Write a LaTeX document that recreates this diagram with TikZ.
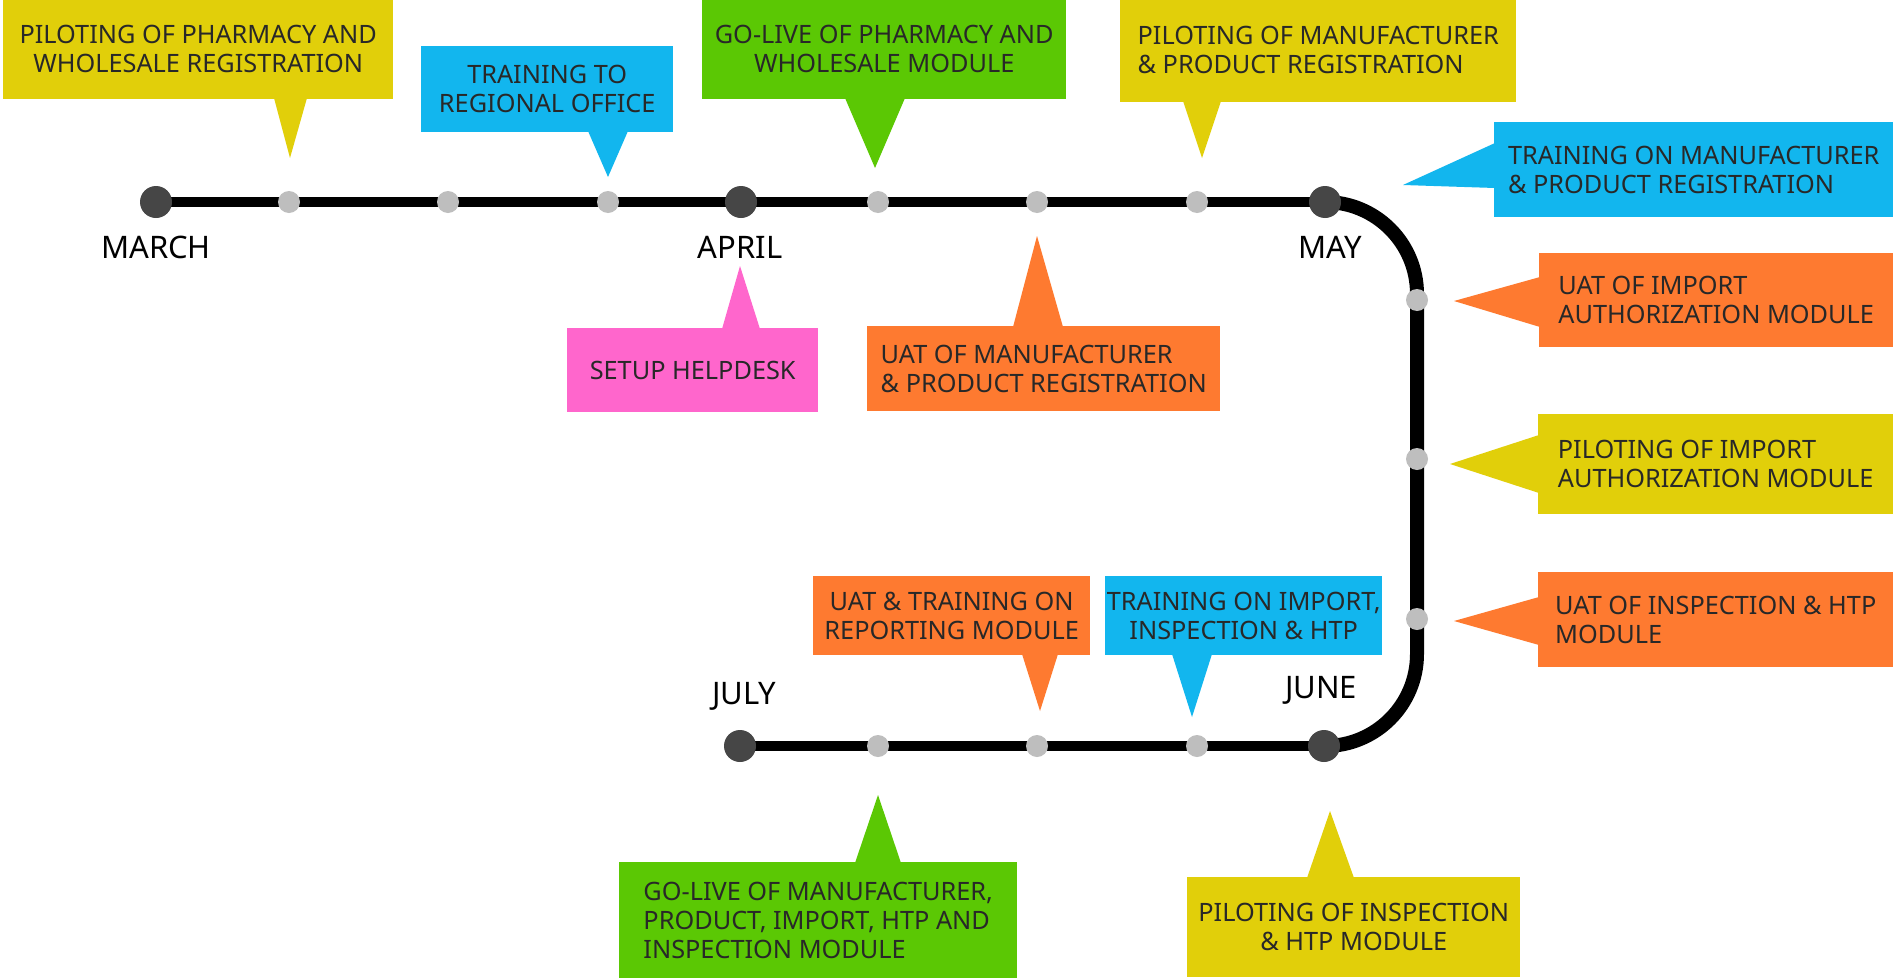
\documentclass[tikz,border=0pt]{standalone}
\usepackage{fontspec}
\setmainfont{Noto Sans}
\usetikzlibrary{backgrounds}

\definecolor{cYellow}{RGB}{225,207,10}
\definecolor{cBlue}{RGB}{18,182,238}
\definecolor{cGreen}{RGB}{91,200,4}
\definecolor{cOrange}{RGB}{254,122,48}
\definecolor{cPink}{RGB}{255,102,204}
\definecolor{cMonth}{RGB}{70,70,70}
\definecolor{cTick}{RGB}{190,190,190}
\definecolor{cText}{RGB}{40,40,40}

\tikzset{
  callout/.style={rectangle, inner sep=0pt, anchor=north west, text=cText,
    font=\fontsize{25.3}{29}\selectfont},
  mdot/.style={circle, fill=cMonth, inner sep=0pt, minimum size=32pt},
  tdot/.style={circle, fill=cTick, inner sep=0pt, minimum size=22pt},
  month/.style={inner sep=0pt, anchor=base, text=black,
    font=\fontsize{31}{36}\selectfont},
  track/.style={line width=10pt, draw=black},
  turntrack/.style={line width=14pt, draw=black, rounded corners=92pt},
}

\begin{document}
\begin{tikzpicture}[x=1pt,y=-1pt]
\useasboundingbox (0,0) rectangle (1896,980);

% month stations
\node[mdot] (march) at (156,202) {};
\node[mdot] (april) at (741,202) {};
\node[mdot] (may)   at (1325,202) {};
\node[mdot] (june)  at (1324,746) {};
\node[mdot] (july)  at (740,746) {};

% intermediate stops
\node[tdot] (s1) at (289,202) {};
\node[tdot] (s2) at (448,202) {};
\node[tdot] (s3) at (608,202) {};
\node[tdot] (s4) at (878,202) {};
\node[tdot] (s5) at (1037,202) {};
\node[tdot] (s6) at (1197,202) {};
\node[tdot] (s7) at (1417,300) {};
\node[tdot] (s8) at (1417,459) {};
\node[tdot] (s9) at (1417,619) {};
\node[tdot] (s10) at (1197,746) {};
\node[tdot] (s11) at (1037,746) {};
\node[tdot] (s12) at (878,746) {};

% turning points of the track
\coordinate (turnA) at (1417,202);
\coordinate (turnB) at (1417,746);

% the track itself, under the stations
\begin{pgfonlayer}{background}
  \fill[white] (0,0) rectangle (1896,980);
  \draw[track] (march.center) -- (may.center);
  \draw[turntrack] (may.center) -- (turnA) -- (turnB) -- (june.center);
  \draw[track] (june.center) -- (july.center);
\end{pgfonlayer}

% month labels
\node[month] (lmarch) at (156,258) {MARCH};
\node[month] (lapril) at (740,258) {APRIL};
\node[month] (lmay)   at (1330,258) {MAY};
\node[month] (ljune)  at (1321,698) {JUNE};
\node[month] (ljuly)  at (744,704) {JULY};

% callouts above the top line
\fill[cYellow] (274,98) -- (290,158) -- (307,98) -- cycle;
\node[callout, fill=cYellow, minimum width=390pt, minimum height=101pt, align=center]
  (b1) at (3,-2) {PILOTING OF PHARMACY AND\\WHOLESALE REGISTRATION};

\fill[cBlue] (588,131) -- (608,177) -- (628,131) -- cycle;
\node[callout, fill=cBlue, minimum width=252pt, minimum height=86pt, align=center]
  (b2) at (421,46) {TRAINING TO\\REGIONAL OFFICE};

\fill[cGreen] (845,98) -- (875,168) -- (905,98) -- cycle;
\node[callout, fill=cGreen, minimum width=364pt, minimum height=101pt, align=center]
  (b3) at (702,-2) {GO-LIVE OF PHARMACY AND\\WHOLESALE MODULE};

\fill[cYellow] (1183,101) -- (1202,158) -- (1221,101) -- cycle;
\node[callout, fill=cYellow, minimum width=396pt, minimum height=104pt, align=left]
  (b4) at (1120,-2) {PILOTING OF MANUFACTURER\\\& PRODUCT REGISTRATION};

% callouts along the right side
\fill[cBlue] (1495,143) -- (1403,185) -- (1495,188) -- cycle;
\node[callout, fill=cBlue, minimum width=399pt, minimum height=95pt, align=left]
  (b5) at (1494,122) {TRAINING ON MANUFACTURER\\\& PRODUCT REGISTRATION};

\fill[cOrange] (1540,277) -- (1454,301) -- (1540,327) -- cycle;
\node[callout, fill=cOrange, minimum width=354pt, minimum height=94pt, align=left]
  (b6) at (1539,253) {UAT OF IMPORT\\AUTHORIZATION MODULE};

\fill[cYellow] (1539,435) -- (1450,464) -- (1539,493) -- cycle;
\node[callout, fill=cYellow, minimum width=355pt, minimum height=100pt, align=left]
  (b7) at (1538,414) {PILOTING OF IMPORT\\AUTHORIZATION MODULE};

\fill[cOrange] (1539,597) -- (1454,621) -- (1539,645) -- cycle;
\node[callout, fill=cOrange, minimum width=355pt, minimum height=95pt, align=left]
  (b8) at (1538,572) {UAT OF INSPECTION \& HTP\\MODULE};

% callouts below the top line
\fill[cPink] (722,329) -- (740,266) -- (760,329) -- cycle;
\node[callout, fill=cPink, minimum width=251pt, minimum height=84pt, align=center]
  (b9) at (567,328) {SETUP HELPDESK};

\fill[cOrange] (1013,327) -- (1037,236) -- (1063,327) -- cycle;
\node[callout, fill=cOrange, minimum width=353pt, minimum height=85pt, align=left]
  (b10) at (867,326) {UAT OF MANUFACTURER\\\& PRODUCT REGISTRATION};

% callouts above the bottom line
\fill[cOrange] (1022,654) -- (1040,711) -- (1058,654) -- cycle;
\node[callout, fill=cOrange, minimum width=277pt, minimum height=79pt, align=center]
  (b11) at (813,576) {UAT \& TRAINING ON\\REPORTING MODULE};

\fill[cBlue] (1172,654) -- (1192,717) -- (1212,654) -- cycle;
\node[callout, fill=cBlue, minimum width=277pt, minimum height=79pt, align=center]
  (b12) at (1105,576) {TRAINING ON IMPORT,\\INSPECTION \& HTP};

% callouts below the bottom line
\fill[cGreen] (855,863) -- (878,795) -- (901,863) -- cycle;
\node[callout, fill=cGreen, minimum width=398pt, minimum height=116pt, align=left]
  (b13) at (619,862) {GO-LIVE OF MANUFACTURER,\\PRODUCT, IMPORT, HTP AND\\INSPECTION MODULE};

\fill[cYellow] (1307,878) -- (1330,811) -- (1354,878) -- cycle;
\node[callout, fill=cYellow, minimum width=333pt, minimum height=100pt, align=center]
  (b14) at (1187,877) {PILOTING OF INSPECTION\\\& HTP MODULE};

\end{tikzpicture}
\end{document}
